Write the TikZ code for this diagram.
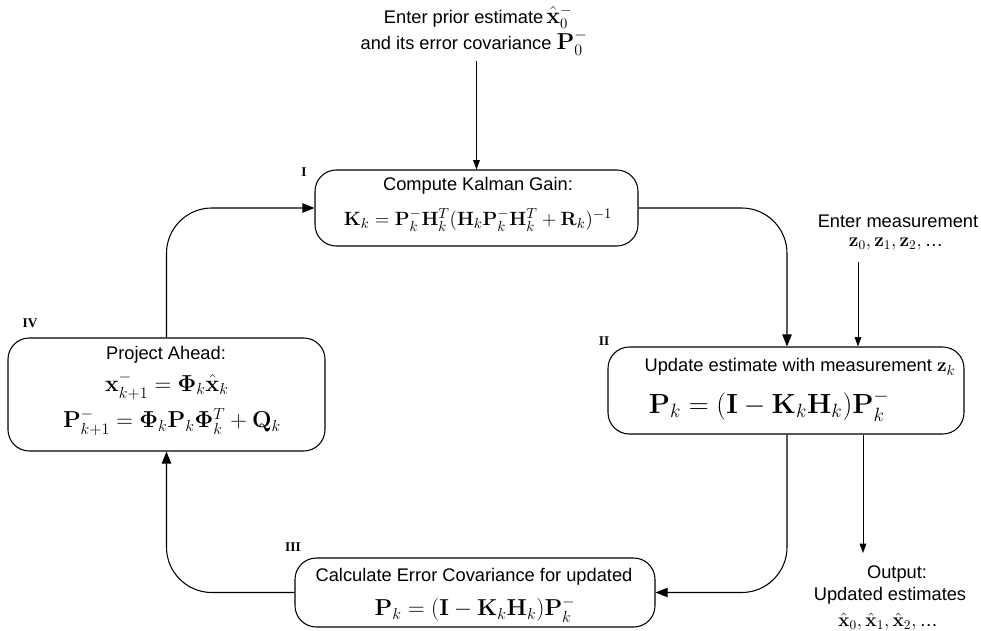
\documentclass[tikz,border=0pt]{standalone}
\usepackage{amsmath}
\usepackage[no-math]{fontspec}
\setmainfont{Liberation Sans}
\newfontfamily\tagfont{Liberation Serif}
\usetikzlibrary{arrows.meta}

\begin{document}
\begin{tikzpicture}[x=0.75pt,y=-0.75pt,
  stage/.style={draw, rounded corners=16pt, line width=0.8pt, inner sep=0pt},
  txt/.style={inner sep=0pt, font=\fontsize{13.7}{16}\selectfont},
  eq/.style={inner sep=0pt, font=\fontsize{15.7}{18}\selectfont},
  projeq/.style={inner sep=0pt, font=\fontsize{16.8}{19}\selectfont},
  coveqs/.style={inner sep=0pt, font=\fontsize{18.6}{21}\selectfont},
  bigeq/.style={inner sep=0pt, font=\fontsize{21.7}{24}\selectfont},
  tag/.style={inner sep=0pt, font=\tagfont\bfseries\fontsize{10}{12}\selectfont},
  loop/.style={-{Triangle[length=9pt,width=7pt]}, line width=0.8pt},
  feed/.style={-{Triangle[length=7pt,width=5pt]}, line width=0.6pt}
]
\path[use as bounding box] (0,0) rectangle (981,631);

% the four stages of the filter cycle
\node[stage, minimum width=242.25pt, minimum height=57pt]    (boxI)   at (476.5,208) {};
\node[stage, minimum width=267pt,    minimum height=65.25pt] (boxII)  at (786,390.5) {};
\node[stage, minimum width=270pt,    minimum height=51.75pt] (boxIII) at (475,592.5) {};
\node[stage, minimum width=237.75pt, minimum height=84.75pt] (boxIV)  at (166.5,394.5) {};

% stage numbers
\node[tag] (tagI)   at (304,172) {I};
\node[tag] (tagII)  at (604,341) {II};
\node[tag] (tagIII) at (293,547) {III};
\node[tag] (tagIV)  at (30,323)  {IV};

% initial estimate
\node[txt] (prior1) at (478,17) {Enter prior estimate\,{\fontsize{16}{18}\selectfont$\hat{\mathbf{x}}_0^-$}};
\node[txt] (prior2) at (474,43) {and its error covariance {\fontsize{17}{18}\selectfont$\mathbf{P}_0^-$}};

% stage I: gain
\node[txt] (gaintitle) at (478,186) {Compute Kalman Gain:};
\node[eq]  (gaineq)    at (478,220) {$\mathbf{K}_k=\mathbf{P}_k^-\mathbf{H}_k^T(\mathbf{H}_k\mathbf{P}_k^-\mathbf{H}_k^T+\mathbf{R}_k)^{-1}$};

% measurements
\node[txt] (meas1) at (898,221) {Enter measurement};
\node[txt] (meas2) at (896,244) {$\mathbf{z}_0,\mathbf{z}_1,\mathbf{z}_2,$\,\dots};

% stage II: update
\node[txt]    (updtitle) at (800,367) {Update estimate with measurement {\fontsize{15}{18}\selectfont$\mathbf{z}_k$}};
\node[bigeq]  (updeq)    at (769,406) {$\mathbf{P}_k=(\mathbf{I}-\mathbf{K}_k\mathbf{H}_k)\mathbf{P}_k^-$};

% stage III: covariance
\node[txt]    (covtitle) at (474,577) {Calculate Error Covariance for updated};
\node[coveqs] (coveq)    at (475,610) {$\mathbf{P}_k=(\mathbf{I}-\mathbf{K}_k\mathbf{H}_k)\mathbf{P}_k^-$};

% stage IV: projection
\node[txt]    (projtitle) at (166,355) {Project Ahead:};
\node[projeq] (projx)     at (167,386) {$\mathbf{x}_{k+1}^-=\mathbf{\Phi}_k\hat{\mathbf{x}}_k$};
\node[projeq] (projP)     at (172,422) {$\mathbf{P}_{k+1}^-=\mathbf{\Phi}_k\mathbf{P}_k\mathbf{\Phi}_k^T+\mathbf{Q}_k$};

% output
\node[txt] (out1) at (897,574) {Output:};
\node[txt] (out2) at (890,596) {Updated estimates};
\node[txt] (out3) at (888,622) {$\hat{\mathbf{x}}_0,\hat{\mathbf{x}}_1,\hat{\mathbf{x}}_2,$\,\dots};

% connector ends
\coordinate (priorfoot) at (476.5,61);
\coordinate (measfoot)  at (858,262);
\coordinate (outtip)    at (863,553);
\coordinate (gainx)     at (787,0);

% main cycle
\draw[loop, rounded corners=34pt] (boxI.east) -| (gainx |- boxII.north);
\draw[loop, rounded corners=34pt] (gainx |- boxII.south) |- (boxIII.east);
\draw[loop, rounded corners=34pt] (boxIII.west) -| (boxIV.south);
\draw[loop, rounded corners=34pt] (boxIV.north) |- (boxI.west);

% inputs and output
\draw[feed] (priorfoot) -- (boxI.north);
\draw[feed] (measfoot) -- (measfoot |- boxII.north);
\draw[feed] (outtip |- boxII.south) -- (outtip);
\end{tikzpicture}
\end{document}
